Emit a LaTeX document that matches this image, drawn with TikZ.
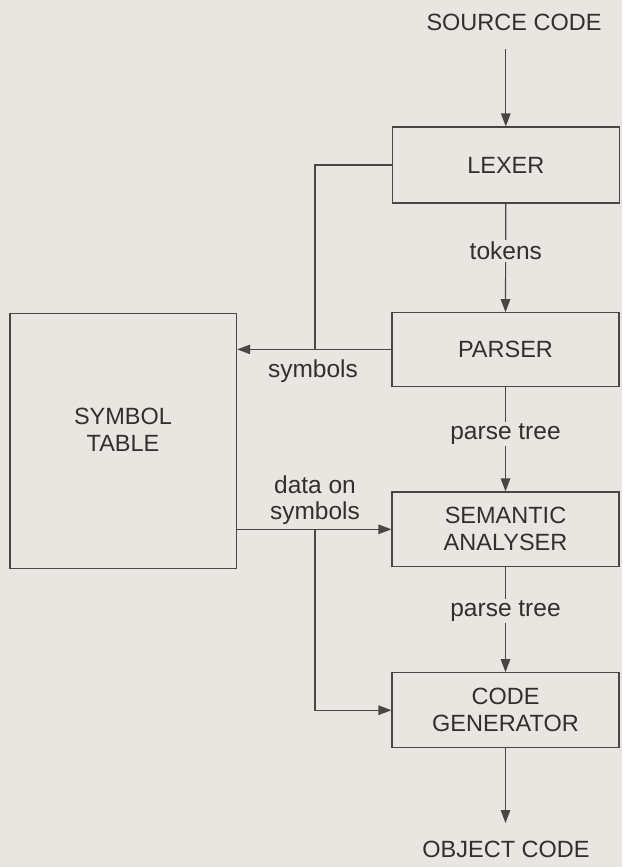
\documentclass[tikz,border=0pt]{standalone}
\usepackage{fontspec}
\setmainfont{Liberation Sans}
\usetikzlibrary{arrows.meta}
\definecolor{bg}{RGB}{233,229,224}
\definecolor{ink}{RGB}{72,70,70}
\definecolor{txt}{RGB}{50,47,47}
\begin{document}
\begin{tikzpicture}[x=1pt,y=-1pt,
  box/.style={draw=ink, line width=1.1pt, minimum width=227pt, align=center,
    font=\fontsize{23.5}{27}\selectfont, text=txt, inner sep=0pt},
  lbl/.style={fill=bg, font=\fontsize{24.5}{25.5}\selectfont, text=txt, inner sep=2pt, align=center},
  capt/.style={font=\fontsize{23.5}{27}\selectfont, text=txt, inner sep=1pt},
  conn/.style={draw=ink, line width=1.2pt},
  arr/.style={conn, -{Triangle[length=13pt,width=9.5pt]}}]
\fill[bg] (0,0) rectangle (622,867);
\useasboundingbox (0,0) rectangle (622,867);

% boxes
\node[box, minimum height=76pt] (lexer) at (505.8,165) {LEXER};
\node[box, minimum height=73.3pt] (parser) at (505.5,349.4) {PARSER};
\node[box, minimum height=74.7pt] (sem) at (505.5,529.3) {SEMANTIC\\ANALYSER};
\node[box, minimum height=75pt] (code) at (505.5,710.2) {CODE\\GENERATOR};
\node[box, minimum width=226.7pt, minimum height=255pt] (sym) at (123.3,440.6) {};
\node[capt, align=center, font=\fontsize{23.5}{27}\selectfont] (symtxt) at (123,429.5) {SYMBOL\\TABLE};

% in / out
\node[capt] (src) at (514,22.7) {SOURCE CODE};
\node[capt] (obj) at (506,849.3) {OBJECT CODE};
\coordinate (srcstart) at (505.8,49);
\coordinate (objtip) at (505.5,823);

% main chain
\draw[arr] (srcstart) -- (lexer.north);
\draw[arr] (lexer.south) -- (parser.north);
\draw[arr] (parser.south) -- (sem.north);
\draw[arr] (sem.south) -- (code.north);
\draw[arr] (code.south) -- (objtip);

% symbols feedback
\coordinate (fb) at (315,165);
\coordinate (fj) at (315,349.4);
\draw[conn] (lexer.west) -- (fb) -- (fj);
\draw[arr] (parser.west) -- (parser.west -| sym.east);

% data on symbols
\coordinate (dj) at (315,529.3);
\draw[arr] (sem.west -| sym.east) -- (sem.west);
\draw[arr] (dj) |- (code.west);

% labels
\node[lbl] (ltok) at (505.8,251) {tokens};
\node[lbl] (lpt1) at (505.5,434) {parse tree};
\node[lbl] (lpt2) at (505.5,611) {parse tree};
\node[lbl, fill=none] (lsym) at (313,371) {symbols};
\node[lbl, fill=none] (ldata) at (315,500) {data on\\symbols};
\end{tikzpicture}
\end{document}
